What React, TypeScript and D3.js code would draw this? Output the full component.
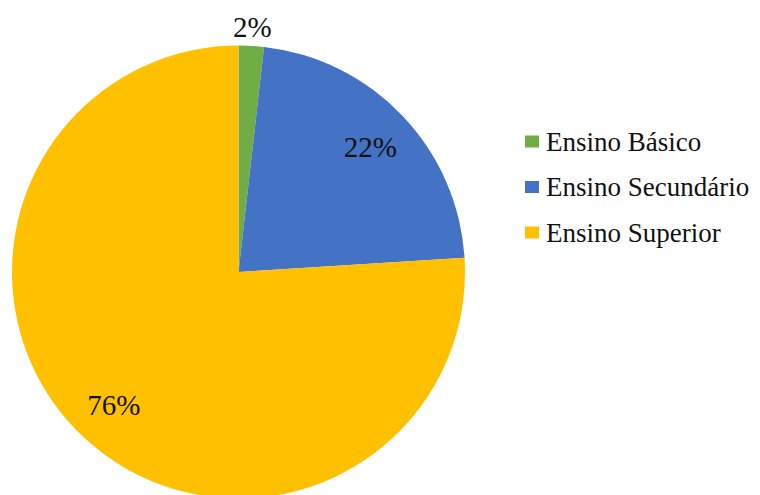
import React from "react";
import * as d3 from "d3";

const categories = ["Ensino Básico", "Ensino Secundário", "Ensino Superior"];
const values = [1.8, 22.2, 76.0];
const labels = ["2%", "22%", "76%"];
const colors = ["#70AD47", "#4472C4", "#FFC000"];

export default function App() {
  const W = 760, H = 495;
  const cx = 238.5, cy = 272, R = 226.5;
  const data = categories.map((c, i) => ({ c, v: values[i], l: labels[i], col: colors[i] }));
  const pie = d3.pie<any>().value((d) => d.v).sort(null);
  const arcs = pie(data);
  const arc = d3.arc<any>().innerRadius(0).outerRadius(R);
  const inLabel = d3.arc<any>().innerRadius(182 * 2).outerRadius(0);
  const outLabel = d3.arc<any>().innerRadius(246).outerRadius(246);
  const font = "\"Liberation Serif\", \"Times New Roman\", Times, \"DejaVu Serif\", serif";
  return (
    <svg width={W} height={H} style={{ position: "absolute", left: 0, top: 0, background: "#fff" }}>
      <g transform={`translate(${cx},${cy})`}>
        {arcs.map((a, i) => (
          <path key={i} d={arc(a) as string} fill={a.data.col} />
        ))}
        {arcs.map((a, i) => {
          const [x, y] = i === 0 ? outLabel.centroid(a) : inLabel.centroid(a);
          return (
            <text key={"t" + i} x={x} y={y} dy="0.35em" textAnchor="middle" style={{ fontFamily: font, fontSize: 29 }} fill="#111">
              {a.data.l}
            </text>
          );
        })}
      </g>
      <g>
        {data.map((d, i) => (
          <g key={i} transform={`translate(525,${141.5 + i * 45.5})`}>
            <rect x={0} y={-6} width={14} height={12} fill={d.col} />
            <text x={21} y={0} dy="0.35em" style={{ fontFamily: font, fontSize: 27 }} fill="#111">
              {d.c}
            </text>
          </g>
        ))}
      </g>
    </svg>
  );
}
